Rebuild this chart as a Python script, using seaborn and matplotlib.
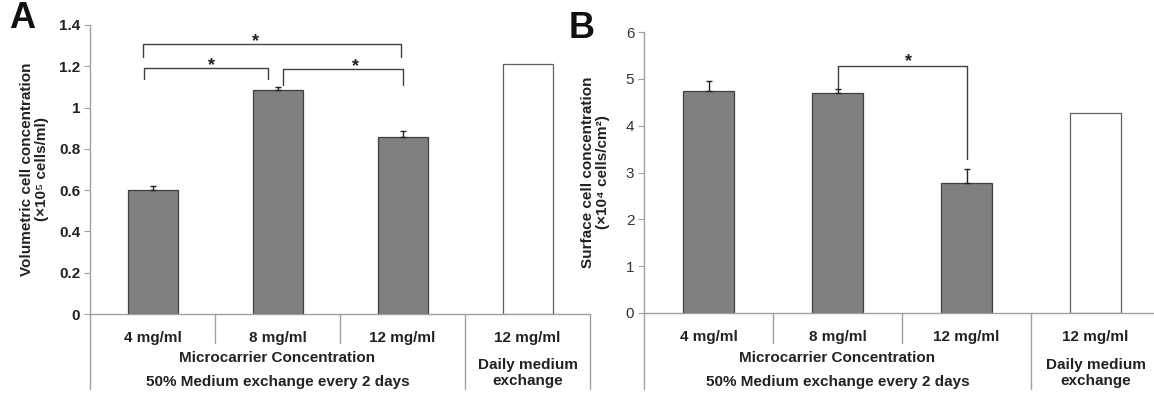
import numpy as np
import pandas as pd
import seaborn as sns
import matplotlib.pyplot as plt
from matplotlib.transforms import blended_transform_factory

# Data
groups = ["g4", "g8", "g12", "g12d"]
tick_labels = ["4 mg/ml", "8 mg/ml", "12 mg/ml", "12 mg/ml"]

vol_values = [0.599, 1.083, 0.856, 1.21]
vol_errors = [0.021, 0.017, 0.029]

surf_values = [4.75, 4.70, 2.77, 4.27]
surf_errors = [0.20, 0.08, 0.31]

bar_colors = ["#808080", "#808080", "#808080", "#ffffff"]
edge_colors = ["#404040", "#404040", "#404040", "#606060"]

sns.set_theme(style="white")
plt.rcParams["font.family"] = ["Liberation Sans", "DejaVu Sans"]

W, H = 1154, 394
fig = plt.figure(figsize=(W / 100, H / 100), dpi=100)


def fy(py):
    return 1 - py / H


def draw_panel(ax, values, errors, ylabel, yticks, tick_bold, label_x, axis_py):
    df = pd.DataFrame({"group": groups, "value": values})
    sns.barplot(data=df, x="group", y="value", hue="group", palette=bar_colors,
                legend=False, width=0.4, errorbar=None, linewidth=0.9, ax=ax)
    for patch, ec in zip(ax.patches, edge_colors):
        patch.set_edgecolor(ec)
    ax.errorbar(range(3), values[:3], yerr=[np.zeros(3), errors], fmt="none",
                ecolor="#222222", elinewidth=1, capsize=2, capthick=1)

    ax.set_xlim(-0.5, 3.5)
    ax.set_ylim(yticks[0], yticks[-1])
    ax.set_yticks(yticks)
    ax.set_yticklabels([f"{t:g}" for t in yticks],
                       fontweight="bold" if tick_bold else "normal",
                       fontsize=11, color="#222222" if tick_bold else "#333333")
    ax.tick_params(axis="y", length=4, width=0.8, color="#a0a0a0", pad=3, left=True)
    ax.set_xticks(range(4))
    ax.set_xticklabels(tick_labels, fontweight="bold", fontsize=11, color="#222222")
    ax.tick_params(axis="x", length=0, pad=12)
    ax.set_xlabel("")
    ax.set_ylabel(ylabel, fontweight="bold", fontsize=11, color="#222222",
                  linespacing=1.05)
    ax.yaxis.set_label_coords(label_x, 0.5)

    sns.despine(ax=ax)
    for side in ["left", "bottom"]:
        ax.spines[side].set_color("#a0a0a0")
        ax.spines[side].set_linewidth(1)

    # category table below the axis
    tr = blended_transform_factory(ax.transData, fig.transFigure)
    for xb, bottom in [(-0.5, 389), (0.5, 343), (1.5, 343), (2.5, 389), (3.5, 389)]:
        ax.plot([xb, xb], [fy(axis_py), fy(bottom)], transform=tr, color="#a0a0a0",
                lw=1, clip_on=False)
    ax.text(1.0, fy(358), "Microcarrier Concentration", transform=tr,
            ha="center", va="center", fontweight="bold", fontsize=11, color="#222222")
    ax.text(1.0, fy(382), "50% Medium exchange every 2 days", transform=tr,
            ha="center", va="center", fontweight="bold", fontsize=11, color="#222222")
    ax.text(3.0, fy(373), "Daily medium\nexchange", transform=tr, linespacing=1.25,
            ha="center", va="center", fontweight="bold", fontsize=11, color="#222222")


def bracket(ax, x1, x2, y, y1, y2, sx, sy):
    ax.plot([x1, x1, x2, x2], [y1, y, y, y2], color="#404040", lw=1)
    ax.text(sx, sy, "*", ha="center", va="center", fontsize=13,
            fontweight="bold", color="#222222")


# Panel A
axA = fig.add_axes([90 / W, fy(314), 500 / W, 289 / H])
draw_panel(axA, vol_values, vol_errors,
           "Volumetric cell concentration\n(×10⁵ cells/ml)",
           [0, 0.2, 0.4, 0.6, 0.8, 1.0, 1.2, 1.4], True, -0.082, 314)
bracket(axA, -0.076, 1.99, 1.308, 1.245, 1.245, 0.82, 1.32)
bracket(axA, -0.066, 0.925, 1.19, 1.14, 1.14, 0.47, 1.205)
bracket(axA, 1.044, 2.0, 1.185, 1.11, 1.11, 1.62, 1.20)

# Panel B
axB = fig.add_axes([644 / W, fy(313), 516 / W, 281 / H])
draw_panel(axB, surf_values, surf_errors,
           "Surface cell concentration\n(×10⁴ cells/cm²)",
           [0, 1, 2, 3, 4, 5, 6], False, -0.066, 313)
bracket(axB, 1.0, 2.0, 5.28, 4.81, 3.28, 1.55, 5.36)

fig.text(22 / W, fy(18), "A", fontsize=26, fontweight="bold", ha="center",
         va="center", color="#111111")
fig.text(582 / W, fy(28), "B", fontsize=26, fontweight="bold", ha="center",
         va="center", color="#111111")

plt.savefig("out.png", dpi=100)
